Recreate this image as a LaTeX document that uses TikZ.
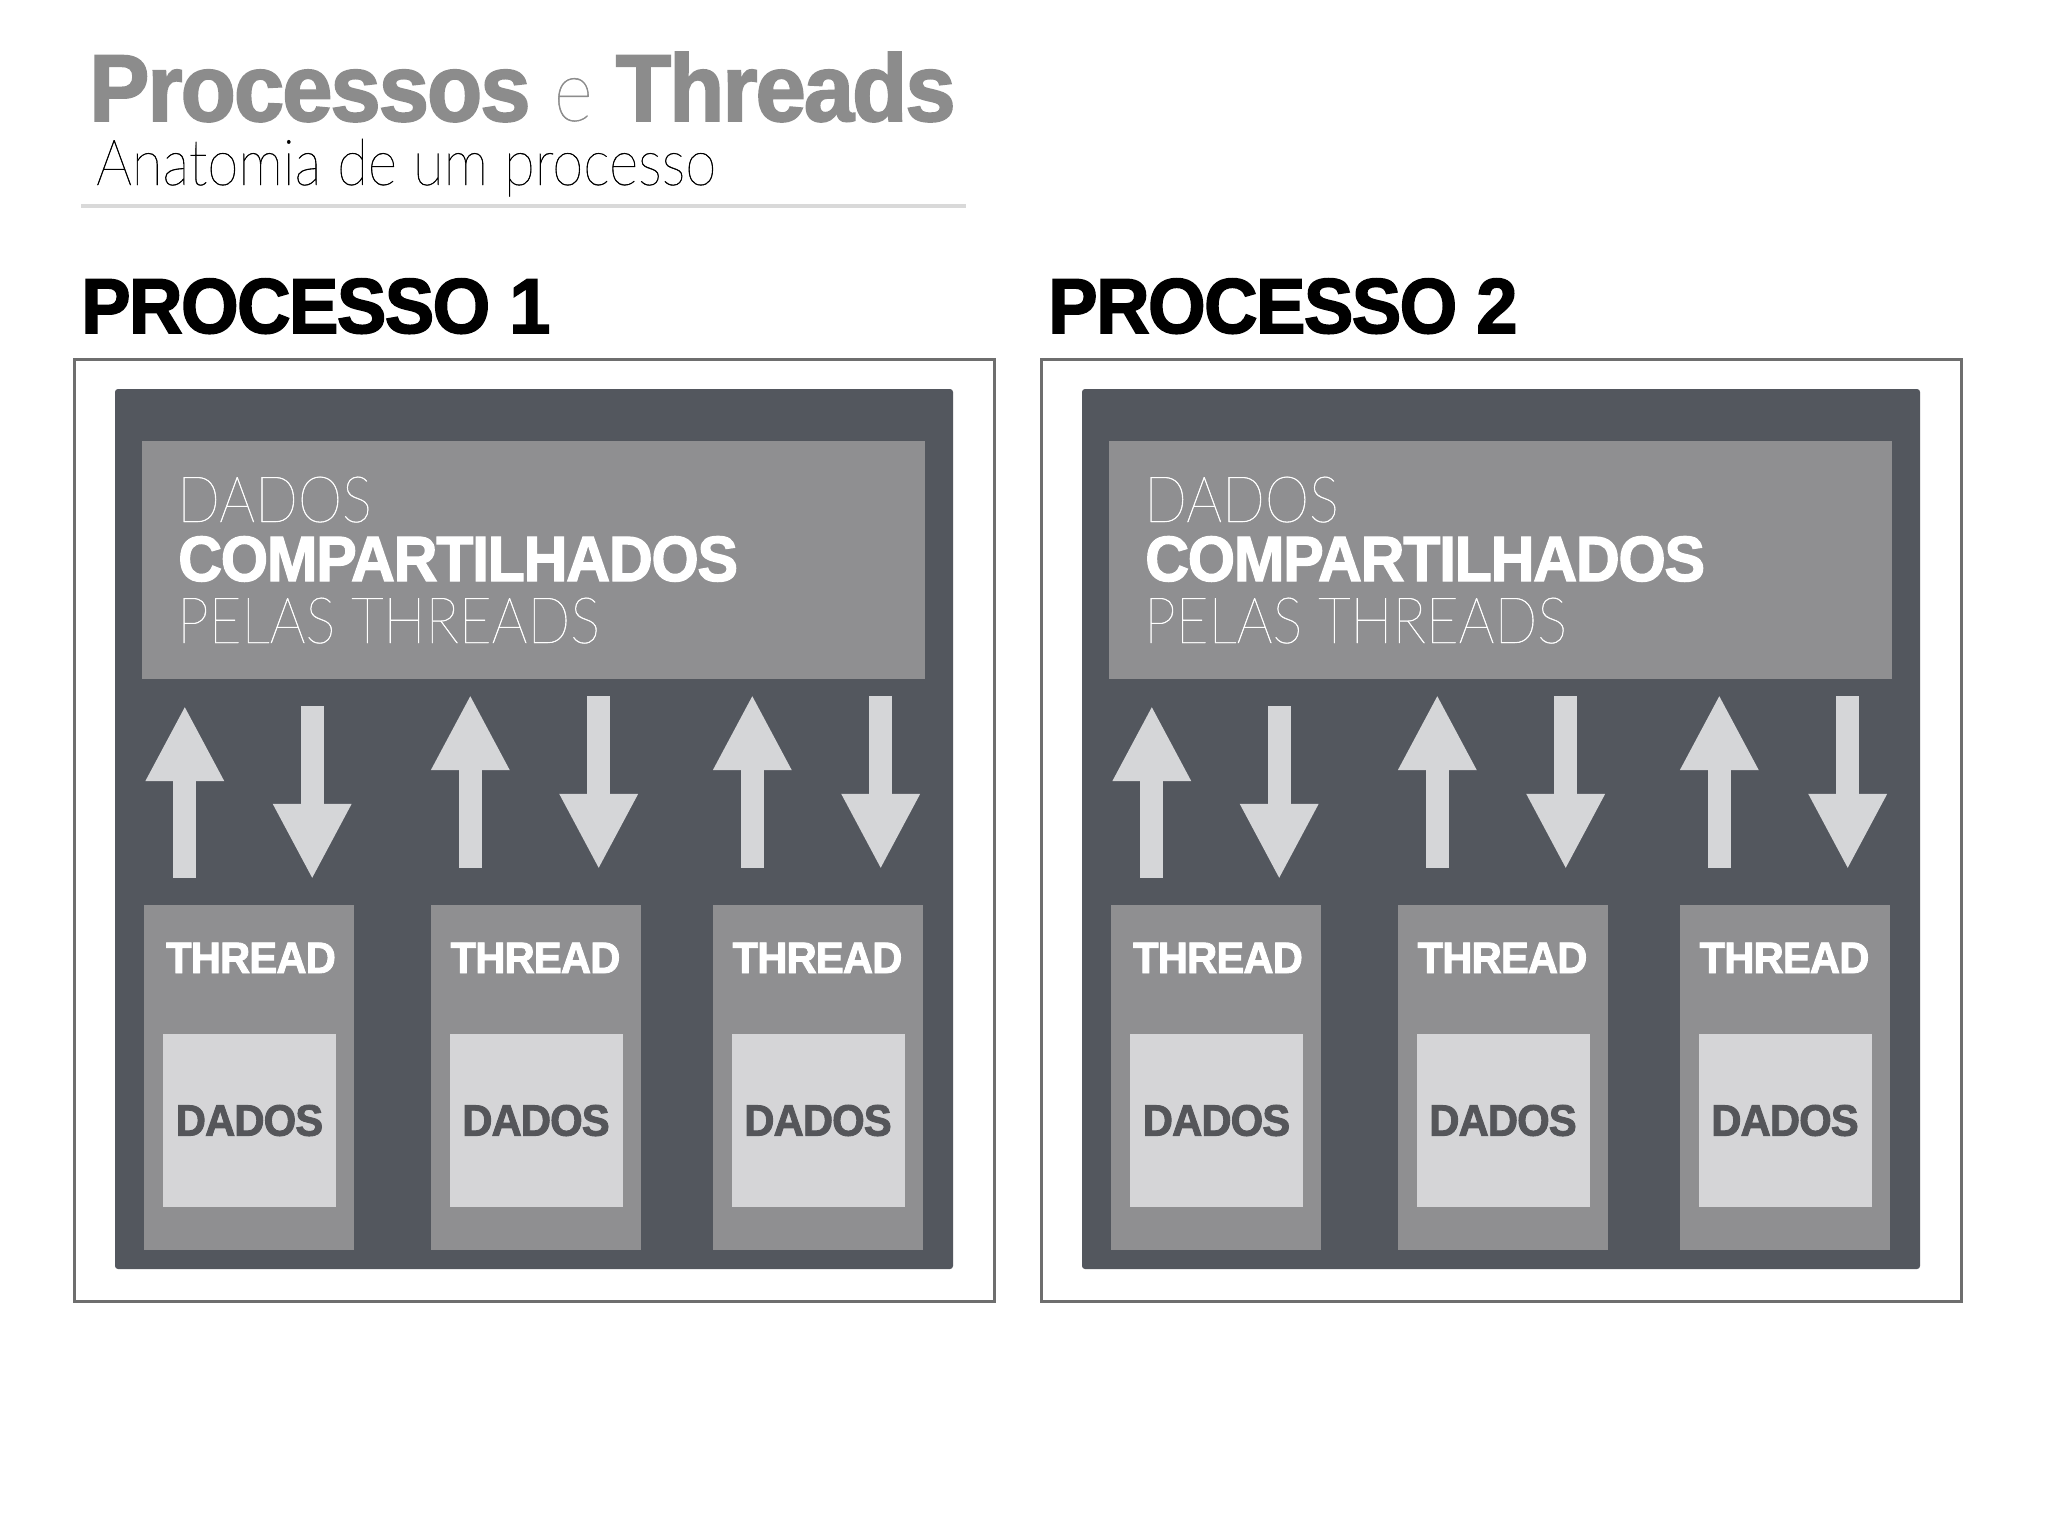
\documentclass[tikz,border=0pt]{standalone}
\usepackage{xcolor}
\usepackage{fontspec}
\usepackage{tikz}
\usetikzlibrary{arrows.meta,calc,positioning}

\newfontfamily\heavyfont[FakeStretch=0.95,FakeBold=2,LetterSpace=-2]{Liberation Sans Bold}
\IfFontExistsTF{Lato Thin}
  {\newfontfamily\lightfont[FakeStretch=0.88,FakeBold=0.6]{Lato Thin}}
  {\IfFontExistsTF{Lato Light}
    {\newfontfamily\lightfont[FakeStretch=0.88]{Lato Light}}
    {\newfontfamily\lightfont[FakeStretch=0.88]{Lato}}}

\definecolor{titlegrey}{HTML}{8C8C8C}
\definecolor{rulegrey}{HTML}{D9D9D9}
\definecolor{framegrey}{HTML}{6E6E6E}
\definecolor{procdark}{HTML}{53575E}
\definecolor{sharegrey}{HTML}{8F8F91}
\definecolor{datalight}{HTML}{D5D5D7}
\definecolor{arrowgrey}{HTML}{D5D6D8}
\definecolor{datatext}{HTML}{55565A}

\tikzset{
  procframe/.style={draw=framegrey, line width=3pt, fill=white, minimum width=920pt, minimum height=942pt, inner sep=0pt},
  procbox/.style={fill=procdark, rounded corners=3pt, minimum width=838pt, minimum height=880pt, inner sep=0pt},
  sharedbox/.style={fill=sharegrey, minimum width=783pt, minimum height=238pt, inner sep=0pt},
  threadbox/.style={fill=sharegrey, minimum width=210pt, minimum height=345pt, inner sep=0pt},
  databox/.style={fill=datalight, minimum size=173pt, inner sep=0pt, text=datatext, font=\heavyfont\fontsize{44}{44}\selectfont},
  threadlabel/.style={anchor=base, inner sep=0pt, text=white, font=\heavyfont\fontsize{44}{44}\selectfont},
  sharedlight/.style={anchor=base west, inner sep=0pt, text=white, font=\lightfont\fontsize{64}{64}\selectfont},
  sharedbold/.style={anchor=base west, inner sep=0pt, text=white, font=\heavyfont\fontsize{64}{64}\selectfont},
  proctitle/.style={anchor=base west, inner sep=0pt, text=black, font=\heavyfont\fontsize{78}{78}\selectfont},
  bigarrow/.style={arrowgrey, line width=23pt, -{Triangle[length=74pt, width=79pt, line width=0pt]}}
}

\begin{document}
\begin{tikzpicture}[x=1pt, y=-1pt]
        \useasboundingbox[fill=white] (0,0) rectangle (2048,1536);

        % Heading
        \node[anchor=base west, inner sep=0pt, text=titlegrey, font=\heavyfont\fontsize{95}{95}\selectfont] (title) at (89,121) {Processos {\lightfont\fontsize{86}{86}\selectfont e} Threads};
        \node[anchor=base west, inner sep=0pt, text=black, font=\lightfont\fontsize{64}{64}\selectfont] (subtitle) at (96,185) {Anatomia de um processo};
        \draw[rulegrey, line width=4pt] (81,206) -- (966,206);

        \node[proctitle] (ptitle1) at (81,333) {PROCESSO 1};
        \node[proctitle] (ptitle2) at (1048,333) {PROCESSO 2};

        % Process 1
        \node[procframe] (box1) at (534,830) {};
        \node[procbox] (p1) at (534,829) {};
        \node[sharedbox] (sh1) at (533.5,560) {};
        \node[sharedlight] (sh1a) at (177,522) {DADOS};
        \node[sharedbold] (sh1b) at (178,581) {COMPARTILHADOS};
        \node[sharedlight] (sh1c) at (177,643) {PELAS THREADS};

        \node[threadbox] (t11) at (249,1077.5) {};
        \node[threadbox] (t12) at (535.5,1077.5) {};
        \node[threadbox] (t13) at (817.5,1077.5) {};
        \node[threadlabel] (l11) at (251,973) {THREAD};
        \node[threadlabel] (l12) at (535.5,973) {THREAD};
        \node[threadlabel] (l13) at (817.5,973) {THREAD};
        \node[databox] (d11) at (249.5,1120.5) {DADOS};
        \node[databox] (d12) at (536,1120.5) {DADOS};
        \node[databox] (d13) at (818,1120.5) {DADOS};

        \draw[bigarrow] ($(t11.north west)+(41,-27)$) -- ($(t11.north west |- sh1.south)+(41,28)$);
        \draw[bigarrow] ($(t11.north east |- sh1.south)+(-42,27)$) -- ($(t11.north east)+(-42,-27)$);
        \draw[bigarrow] ($(t12.north west)+(40,-37)$) -- ($(t12.north west |- sh1.south)+(40,17)$);
        \draw[bigarrow] ($(t12.north east |- sh1.south)+(-42,17)$) -- ($(t12.north east)+(-42,-37)$);
        \draw[bigarrow] ($(t13.north west)+(40,-37)$) -- ($(t13.north west |- sh1.south)+(40,17)$);
        \draw[bigarrow] ($(t13.north east |- sh1.south)+(-42,17)$) -- ($(t13.north east)+(-42,-37)$);

        % Process 2
        \node[procframe] (box2) at (1501,830) {};
        \node[procbox] (p2) at (1501,829) {};
        \node[sharedbox] (sh2) at (1500.5,560) {};
        \node[sharedlight] (sh2a) at (1144,522) {DADOS};
        \node[sharedbold] (sh2b) at (1145,581) {COMPARTILHADOS};
        \node[sharedlight] (sh2c) at (1144,643) {PELAS THREADS};

        \node[threadbox] (t21) at (1216,1077.5) {};
        \node[threadbox] (t22) at (1502.5,1077.5) {};
        \node[threadbox] (t23) at (1784.5,1077.5) {};
        \node[threadlabel] (l21) at (1218,973) {THREAD};
        \node[threadlabel] (l22) at (1502.5,973) {THREAD};
        \node[threadlabel] (l23) at (1784.5,973) {THREAD};
        \node[databox] (d21) at (1216.5,1120.5) {DADOS};
        \node[databox] (d22) at (1503,1120.5) {DADOS};
        \node[databox] (d23) at (1785,1120.5) {DADOS};

        \draw[bigarrow] ($(t21.north west)+(41,-27)$) -- ($(t21.north west |- sh2.south)+(41,28)$);
        \draw[bigarrow] ($(t21.north east |- sh2.south)+(-42,27)$) -- ($(t21.north east)+(-42,-27)$);
        \draw[bigarrow] ($(t22.north west)+(40,-37)$) -- ($(t22.north west |- sh2.south)+(40,17)$);
        \draw[bigarrow] ($(t22.north east |- sh2.south)+(-42,17)$) -- ($(t22.north east)+(-42,-37)$);
        \draw[bigarrow] ($(t23.north west)+(40,-37)$) -- ($(t23.north west |- sh2.south)+(40,17)$);
        \draw[bigarrow] ($(t23.north east |- sh2.south)+(-42,17)$) -- ($(t23.north east)+(-42,-37)$);
    \end{tikzpicture}
\end{document}
